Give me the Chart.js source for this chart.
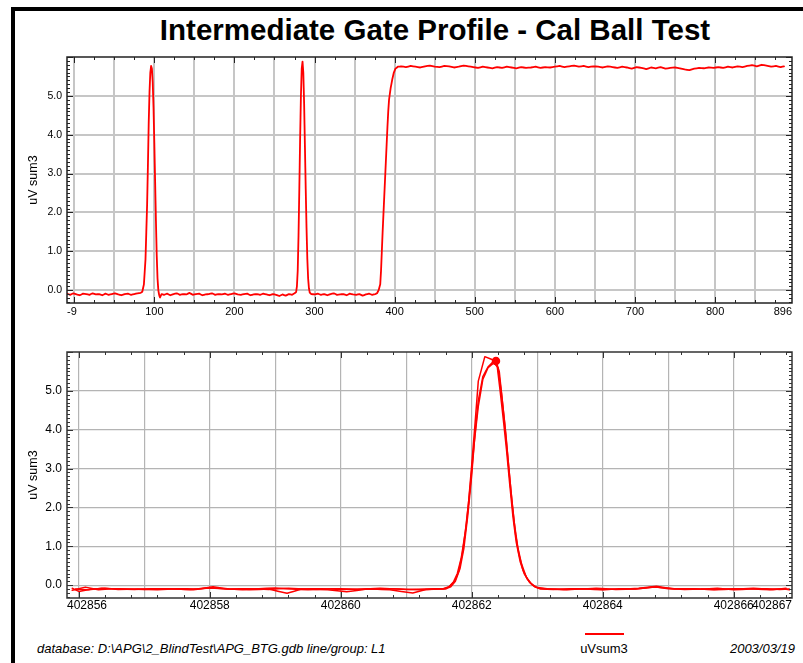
<!DOCTYPE html>
<html>
<head>
<meta charset="utf-8">
<title>Intermediate Gate Profile - Cal Ball Test</title>
<script src="https://cdn.jsdelivr.net/npm/chart.js@4.4.1/dist/chart.umd.min.js"></script>
<style>
  body { margin: 0; background: #fff; font-family: "Liberation Sans", Arial, sans-serif; }
  #page { position: relative; width: 803px; height: 663px; overflow: hidden; }
  #frame { position: absolute; left: 11px; top: 7px; right: -10px; bottom: -10px; border-left: 4px solid #000; border-top: 4px solid #000; }
  #title { position: absolute; left: 70px; width: 730px; top: 15px; text-align: center; font-weight: bold; font-size: 29.5px; line-height: 29px; white-space: nowrap; }
  canvas { position: absolute; left: 0; }
  #topChart { top: 0; }
  #bottomChart { top: 325px; }
  .foot { position: absolute; top: 642px; font-size: 13px; line-height: 13px; white-space: nowrap; }
  #db { left: 37px; font-style: italic; }
  #legLine { position: absolute; left: 585px; top: 633px; width: 39px; height: 2px; background: #ff0000; }
  #legText { left: 580px; width: 48px; text-align: center; }
  #date { right: 8px; font-style: italic; }
</style>
</head>
<body>
<div id="page">
  <div id="frame"></div>
  <div id="title">Intermediate Gate Profile - Cal Ball Test</div>
  <canvas id="topChart" width="803" height="325"></canvas>
  <canvas id="bottomChart" width="803" height="295"></canvas>
  <div class="foot" id="db">database: D:\APG\2_BlindTest\APG_BTG.gdb line/group: L1</div>
  <div id="legLine"></div>
  <div class="foot" id="legText">uVsum3</div>
  <div class="foot" id="date">2003/03/19</div>
</div>
<script>
// ---- top profile: fiducial vs uV sum3 ----
const topX = [
  -9, -5, -1, 3, 7, 11, 15, 19, 23, 27, 31, 35, 39, 43, 47, 51, 55, 59, 63, 67, 71, 75, 79, 83,
  85, 87, 89, 91, 92, 93, 94, 95, 96, 97, 98, 99, 100, 101, 102, 103, 104, 105, 106, 107, 109,
  112, 116, 120, 124, 128, 132, 136, 140, 144, 148, 152, 156, 160, 164, 168, 172, 176, 180, 184, 188, 192,
  196, 200, 204, 208, 212, 216, 220, 224, 228, 232, 236, 240, 244, 248, 252, 256, 260, 264, 268, 272, 275,
  277, 278, 279, 280, 281, 282, 283, 284, 285, 286, 287, 288, 289, 290, 291, 292, 293, 294, 296,
  300, 304, 308, 312, 316, 320, 324, 328, 332, 336, 340, 344, 348, 352, 356, 360, 364, 368, 372, 376,
  378, 380, 382, 383, 384, 385, 386, 387, 388, 389, 390, 391, 392, 393, 395, 397, 399, 401, 404,
  408, 414, 420, 426, 432, 438, 444, 450, 456, 462, 468, 474, 480, 486, 492, 498,
  504, 510, 516, 522, 528, 534, 540, 546, 552, 558, 564, 570, 576, 582, 588, 594, 600,
  606, 612, 618, 624, 630, 636, 642, 648, 654, 660, 666, 672, 678, 684, 690, 696, 702,
  708, 714, 720, 726, 732, 738, 744, 750, 756, 762, 768, 774, 780, 786, 792, 798, 804,
  810, 816, 822, 828, 834, 840, 846, 852, 858, 864, 870, 876, 882,
  886
];
const topY = [
  -0.09, -0.12, -0.08, -0.11, -0.13, -0.09, -0.10, -0.12, -0.08, -0.11, -0.10, -0.13, -0.09, -0.12, -0.10, -0.08, -0.11, -0.13, -0.10, -0.09, -0.12, -0.10, -0.08, -0.07,
  -0.04, 0.15, 0.8, 2.2, 3.2, 4.3, 5.1, 5.6, 5.77, 5.7, 5.35, 4.7, 3.8, 2.8, 1.8, 0.9, 0.3, 0.0, -0.12, -0.19, -0.1,
  -0.12, -0.09, -0.13, -0.1, -0.08, -0.12, -0.1, -0.11, -0.07, -0.12, -0.1, -0.09, -0.13, -0.11, -0.1, -0.08, -0.12, -0.1, -0.11, -0.09, -0.12,
  -0.1, -0.08, -0.11, -0.12, -0.1, -0.09, -0.13, -0.11, -0.1, -0.12, -0.09, -0.11, -0.13, -0.1, -0.12, -0.15, -0.11, -0.14, -0.1, -0.12, -0.08,
  -0.05, 0.1, 0.5, 1.4, 2.6, 3.9, 5.0, 5.7, 5.88, 5.6, 4.8, 3.7, 2.6, 1.6, 0.8, 0.3, 0.05, -0.06, -0.1,
  -0.11, -0.09, -0.12, -0.1, -0.13, -0.1, -0.08, -0.12, -0.11, -0.1, -0.13, -0.09, -0.11, -0.12, -0.1, -0.14, -0.11, -0.09, -0.12, -0.1,
  -0.08, 0.0, 0.15, 0.5, 1.0, 1.5, 1.95, 2.4, 2.85, 3.3, 3.75, 4.2, 4.6, 4.9, 5.2, 5.42, 5.6, 5.7, 5.75,
  5.76, 5.74, 5.77, 5.75, 5.73, 5.76, 5.78, 5.75, 5.74, 5.77, 5.76, 5.73, 5.75, 5.78, 5.76, 5.74,
  5.72, 5.75, 5.73, 5.71, 5.74, 5.72, 5.75, 5.73, 5.71, 5.74, 5.72, 5.73, 5.75, 5.72, 5.74, 5.73, 5.75,
  5.77, 5.74, 5.76, 5.78, 5.75, 5.77, 5.74, 5.76, 5.75, 5.73, 5.76, 5.74, 5.72, 5.75, 5.73, 5.7, 5.74,
  5.72, 5.69, 5.73, 5.71, 5.74, 5.7, 5.72, 5.73, 5.71, 5.68, 5.66, 5.7, 5.72, 5.71, 5.73, 5.72, 5.74,
  5.72, 5.75, 5.73, 5.76, 5.74, 5.77, 5.79, 5.76, 5.8, 5.78, 5.75, 5.77, 5.74,
  5.76
];

// ---- bottom profile: three passes over the cal ball ----
const passAX = [
  402855.9, 402856.1, 402856.3, 402856.5, 402856.75, 402857.0, 402857.25, 402857.5, 402857.75, 402858.0, 402858.25, 402858.5,
  402858.75, 402859.0, 402859.25, 402859.5, 402859.75, 402860.0, 402860.25, 402860.5, 402860.75, 402861.1, 402861.3,
  402861.55, 402861.65, 402861.72, 402861.78, 402861.84, 402861.9, 402861.95, 402862.0, 402862.05, 402862.1, 402862.2, 402862.38,
  402862.43, 402862.48, 402862.53, 402862.58, 402862.63, 402862.68, 402862.74, 402862.8, 402862.88, 402862.96, 402863.05,
  402863.25, 402863.5, 402863.75, 402864.0, 402864.25, 402864.5, 402864.8, 402865.0, 402865.25, 402865.5, 402865.75, 402866.0,
  402866.25, 402866.5, 402866.7, 402866.85
];
const passAY = [
  -0.13, -0.05, -0.12, -0.09, -0.1, -0.11, -0.09, -0.1, -0.12, -0.06, -0.1, -0.11,
  -0.09, -0.07, -0.1, -0.12, -0.1, -0.09, -0.11, -0.1, -0.12, -0.2, -0.11,
  -0.1, -0.05, 0.08, 0.3, 0.7, 1.35, 2.1, 3.1, 4.15, 5.25, 5.88, 5.76,
  5.05, 4.3, 3.5, 2.6, 1.75, 1.1, 0.6, 0.3, 0.08, -0.04, -0.1,
  -0.11, -0.09, -0.1, -0.12, -0.09, -0.1, -0.04, -0.09, -0.11, -0.1, -0.08, -0.12,
  -0.1, -0.09, -0.11, -0.1
];
const passBX = [
  402855.9, 402856.0, 402856.2, 402856.4, 402856.6, 402856.9, 402857.2, 402857.5, 402857.8, 402858.05, 402858.3,
  402858.6, 402858.9, 402859.18, 402859.4, 402859.7, 402860.0, 402860.3, 402860.6, 402860.9, 402861.2, 402861.45,
  402861.6, 402861.68, 402861.75, 402861.82, 402861.88, 402861.94, 402862.0, 402862.05, 402862.1, 402862.17, 402862.25, 402862.32,
  402862.37, 402862.42, 402862.47, 402862.52, 402862.57, 402862.62, 402862.67, 402862.72, 402862.78, 402862.85, 402862.93, 402863.02,
  402863.2, 402863.45, 402863.7, 402864.0, 402864.3, 402864.55, 402864.82, 402865.1, 402865.4, 402865.7, 402866.0, 402866.3,
  402866.55, 402866.75, 402866.85
];
const passBY = [
  -0.08, -0.16, -0.1, -0.08, -0.11, -0.1, -0.12, -0.09, -0.1, -0.04, -0.1,
  -0.12, -0.1, -0.21, -0.1, -0.09, -0.11, -0.1, -0.08, -0.1, -0.12, -0.1,
  -0.1, -0.04, 0.1, 0.42, 0.95, 1.8, 2.85, 3.9, 4.75, 5.37, 5.62, 5.74,
  5.77, 5.5, 4.7, 3.9, 2.95, 2.05, 1.3, 0.8, 0.4, 0.15, 0.0, -0.08,
  -0.1, -0.12, -0.09, -0.11, -0.1, -0.08, -0.03, -0.1, -0.09, -0.12, -0.1, -0.08,
  -0.11, -0.09, -0.12
];
const passCX = [
  402855.95, 402856.15, 402856.35, 402856.6, 402856.85, 402857.1, 402857.4, 402857.7, 402858.0, 402858.3,
  402858.6, 402858.9, 402859.2, 402859.5, 402859.8, 402860.09, 402860.4, 402860.7, 402861.0, 402861.3,
  402861.58, 402861.66, 402861.74, 402861.8, 402861.86, 402861.92, 402861.98, 402862.04, 402862.1, 402862.17, 402862.25, 402862.34,
  402862.4, 402862.45, 402862.5, 402862.55, 402862.6, 402862.65, 402862.7, 402862.76, 402862.83, 402862.9, 402862.98,
  402863.15, 402863.4, 402863.65, 402863.9, 402864.2, 402864.5, 402864.8, 402865.1, 402865.4, 402865.7, 402866.0, 402866.3,
  402866.6, 402866.8
];
const passCY = [
  -0.1, -0.12, -0.08, -0.1, -0.11, -0.09, -0.1, -0.11, -0.07, -0.1,
  -0.09, -0.11, -0.08, -0.1, -0.12, -0.17, -0.1, -0.09, -0.11, -0.1,
  -0.09, -0.03, 0.1, 0.35, 0.85, 1.6, 2.6, 3.7, 4.6, 5.3, 5.6, 5.72,
  5.6, 5.0, 4.2, 3.3, 2.4, 1.6, 1.0, 0.55, 0.22, 0.05, -0.05,
  -0.09, -0.11, -0.1, -0.08, -0.11, -0.1, -0.05, -0.09, -0.1, -0.11, -0.09, -0.1,
  -0.12, -0.08
];
const peakMarkX = 402862.37;   // marked sample on pass B

// ---- axes ----
const topXRange = [-9, 896];
const topXGrid = [0, 50, 100, 150, 200, 250, 300, 350, 400, 450, 500, 550, 600, 650, 700, 750, 800, 850];
const topXLabels = [-9, 100, 200, 300, 400, 500, 600, 700, 800, 896];
const bottomXRange = [402855.82, 402866.89];
const bottomXGrid = [402856, 402857, 402858, 402859, 402860, 402861, 402862, 402863, 402864, 402865, 402866];
const bottomXLabels = [402856, 402858, 402860, 402862, 402864, 402866, 402867];
const yRange = [-0.33, 6.0];
const yTicks = [0, 1, 2, 3, 4, 5];

const FONT = '"Liberation Sans", Arial, sans-serif';

function toPoints(xs, ys) {
  return xs.map((x, i) => ({ x: x, y: ys[i] }));
}

// frame, inward tick marks and end-clamped x labels (like the Geosoft plot)
const frameTicks = {
  id: 'frameTicks',
  afterDatasetsDraw(chart, args, o) {
    const { ctx, chartArea: a, scales } = chart;
    const x = scales.x, y = scales.y;
    const isMajor = (v, origin, major) => {
      const r = (v - origin) / major;
      return Math.abs(r - Math.round(r)) < 1e-6;
    };
    ctx.save();
    ctx.strokeStyle = o.color;
    ctx.lineWidth = 1;
    ctx.beginPath();
    let k = Math.ceil((x.min - o.xOrigin) / o.xStep - 1e-9);
    for (; ; k++) {
      const v = o.xOrigin + k * o.xStep;
      if (v > x.max) break;
      const p = Math.round(x.getPixelForValue(v)) + 0.5;
      const len = isMajor(v, o.xOrigin, o.xMajor) ? 6 : 3;
      ctx.moveTo(p, a.top); ctx.lineTo(p, a.top + len);
      ctx.moveTo(p, a.bottom); ctx.lineTo(p, a.bottom - len);
    }
    k = Math.ceil(y.min / 0.1 - 1e-9);
    for (; ; k++) {
      const v = k * 0.1;
      if (v > y.max + 1e-9) break;
      const p = Math.round(y.getPixelForValue(v)) + 0.5;
      const len = isMajor(v, 0, 1) ? 6 : 3;
      ctx.moveTo(a.left, p); ctx.lineTo(a.left + len, p);
      ctx.moveTo(a.right, p); ctx.lineTo(a.right - len, p);
    }
    ctx.stroke();
    ctx.lineWidth = o.frameWidth;
    ctx.strokeRect(a.left, a.top, a.right - a.left, a.bottom - a.top);

    ctx.fillStyle = '#000';
    ctx.font = o.labelSize + 'px ' + FONT;
    ctx.textAlign = 'left';
    ctx.textBaseline = 'middle';
    o.labels.forEach(v => {
      const text = String(v);
      const w = ctx.measureText(text).width;
      const p = x.getPixelForValue(v);
      const left = Math.min(Math.max(p - w / 2, a.left), a.right - w);
      ctx.fillText(text, left, a.bottom + o.labelGap);
    });
    ctx.restore();
  }
};

function makeChart(id, datasets, cfg) {
  return new Chart(document.getElementById(id), {
    type: 'line',
    data: { datasets: datasets },
    options: {
      responsive: false,
      animation: false,
      events: [],
      layout: { padding: { left: 0, right: 11, top: cfg.padTop, bottom: 0 }, autoPadding: false },
      plugins: {
        legend: { display: false },
        tooltip: { enabled: false },
        frameTicks: cfg.frame
      },
      scales: {
        x: {
          type: 'linear',
          min: cfg.xRange[0],
          max: cfg.xRange[1],
          afterBuildTicks: s => { s.ticks = cfg.xGrid.map(v => ({ value: v })); },
          afterFit: s => { s.height = 22; },
          ticks: { display: false },
          grid: { color: cfg.gridColor, lineWidth: cfg.gridWidth, drawTicks: false },
          border: { display: false }
        },
        y: {
          type: 'linear',
          min: yRange[0],
          max: yRange[1],
          afterBuildTicks: s => { s.ticks = yTicks.map(v => ({ value: v })); },
          afterFit: s => { s.width = 67; },
          ticks: {
            padding: 5,
            color: '#000',
            font: { family: FONT, size: cfg.tickSize },
            callback: v => Number(v).toFixed(1)
          },
          grid: { color: cfg.gridColor, lineWidth: cfg.gridWidth, drawTicks: false },
          border: { display: false },
          title: {
            display: true,
            text: 'uV sum3',
            color: '#000',
            font: { family: FONT, size: 12.5 },
            padding: { top: 26.5, bottom: 0 }
          }
        }
      }
    },
    plugins: [frameTicks]
  });
}

// a tiny tension keeps Chart.js off its pixel-column fast path (which left stubs on the steep edges)
const lineStyle = {
  borderColor: '#ff0000',
  backgroundColor: '#ff0000',
  fill: false,
  tension: 0.0001,
  pointRadius: 0,
  borderJoinStyle: 'round',
  borderCapStyle: 'round'
};

makeChart('topChart', [
  Object.assign({ label: 'uVsum3', data: toPoints(topX, topY), borderWidth: 1.8 }, lineStyle)
], {
  padTop: 57,
  xRange: topXRange,
  xGrid: topXGrid,
  gridColor: '#c6c6c6',
  gridWidth: 2,
  tickSize: 10.5,
  frame: { color: '#222', frameWidth: 1.5, xOrigin: 0, xStep: 25, xMajor: 100, labels: topXLabels, labelSize: 11, labelGap: 8.5 }
});

makeChart('bottomChart', [
  Object.assign({ label: 'uVsum3', data: toPoints(passAX, passAY), borderWidth: 1.5 }, lineStyle),
  Object.assign({ label: 'uVsum3', data: toPoints(passBX, passBY), borderWidth: 1.5 }, lineStyle, {
    pointRadius: c => (c.raw && c.raw.x === peakMarkX) ? 3.5 : 0
  }),
  Object.assign({ label: 'uVsum3', data: toPoints(passCX, passCY), borderWidth: 1.5 }, lineStyle)
], {
  padTop: 27,
  xRange: bottomXRange,
  xGrid: bottomXGrid,
  gridColor: '#b4b4b4',
  gridWidth: 1.2,
  tickSize: 12,
  frame: { color: '#333', frameWidth: 1.5, xOrigin: 402856, xStep: 0.4, xMajor: 2, labels: bottomXLabels, labelSize: 12, labelGap: 8 }
});
</script>
</body>
</html>
